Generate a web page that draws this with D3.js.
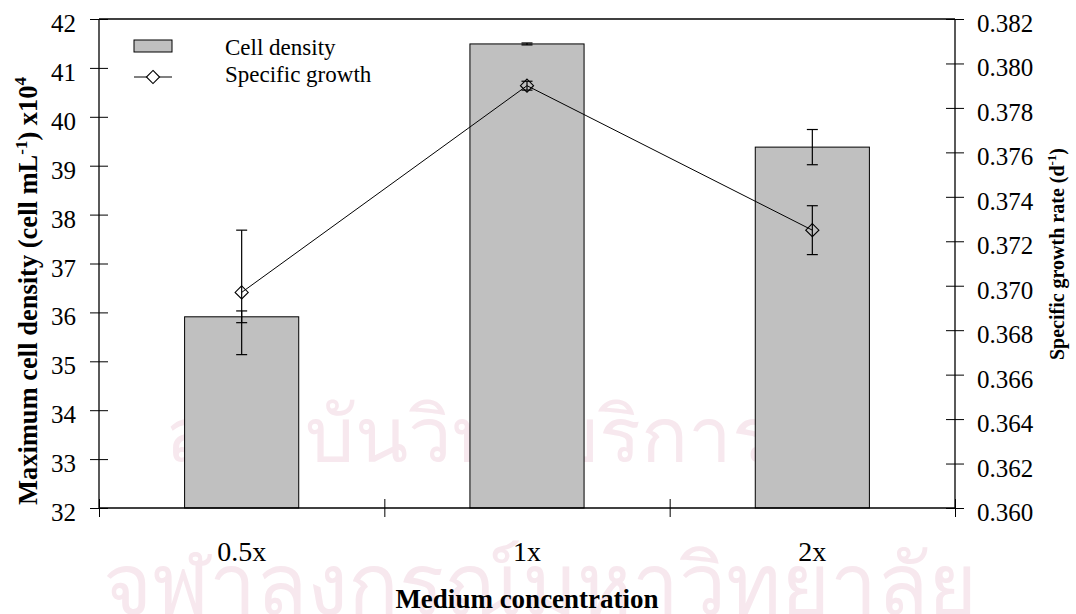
<!DOCTYPE html>
<html>
<head>
<meta charset="utf-8">
<script src="https://cdn.jsdelivr.net/npm/d3@7"></script>
<style>
  body { margin: 0; background: #fff; }
  text { font-family: "Liberation Serif", "Times New Roman", serif; }
</style>
</head>
<body>
<div id="root"></div>
<script>
// values
var categories = ["0.5x", "1x", "2x"];
var density = [35.91, 41.49, 39.38];        // x10^4 cell/mL
var densityErr = [0.12, 0.02, 0.36];
var growth = [0.3697, 0.3790, 0.3725];      // d^-1
var growthErr = [0.0028, 0.0002, 0.0011];
var leftTicks = [32, 33, 34, 35, 36, 37, 38, 39, 40, 41, 42];
var rightTicks = [0.360, 0.362, 0.364, 0.366, 0.368, 0.370, 0.372, 0.374, 0.376, 0.378, 0.380, 0.382];

var W = 1076, H = 614;
var mLeft = 99, mRight = 955, mTop = 19, mBottom = 508;

var svg = d3.select("#root")
    .append("svg")
    .attr("width", W)
    .attr("height", H);

// faint watermark text behind everything
var wm = svg.append("g").attr("fill", "#f7e8ee");
wm.append("text").attr("x", 470).attr("y", 462).attr("text-anchor", "middle")
    .style("font-family", "'Noto Sans', 'DejaVu Sans', sans-serif")
    .attr("font-size", 78).text("สถาบันวิทยบริการ");
wm.append("text").attr("x", 540).attr("y", 614).attr("text-anchor", "middle")
    .style("font-family", "'Noto Sans', 'DejaVu Sans', sans-serif")
    .attr("font-size", 84).text("จุฬาลงกรณ์มหาวิทยาลัย");

var x = d3.scaleBand()
    .domain(categories)
    .range([mLeft, mRight])
    .paddingInner(0.6)
    .paddingOuter(0.3);

var xEdge = d3.scaleLinear().domain([0, categories.length]).range([mLeft, mRight]);

var yL = d3.scaleLinear().domain([32, 42]).range([mBottom, mTop]);
var yR = d3.scaleLinear().domain([0.360, 0.382]).range([mBottom, mTop]);

var cx = function (i) { return x(categories[i]) + x.bandwidth() / 2; };

// bars
svg.selectAll("rect.bar")
    .data(density)
    .enter()
    .append("rect")
    .attr("class", "bar")
    .attr("x", function (d, i) { return x(categories[i]); })
    .attr("y", function (d) { return yL(d); })
    .attr("width", x.bandwidth())
    .attr("height", function (d) { return mBottom - yL(d); })
    .attr("fill", "#c0c0c0")
    .attr("stroke", "#000")
    .attr("stroke-width", 1);

// error bars helper
function errBars(vals, errs, scale) {
    var g = svg.append("g").attr("stroke", "#000").attr("stroke-width", 1.2);
    vals.forEach(function (v, i) {
        var xc = cx(i), y1 = scale(v - errs[i]), y2 = scale(v + errs[i]);
        g.append("line").attr("x1", xc).attr("x2", xc).attr("y1", y1).attr("y2", y2);
        g.append("line").attr("x1", xc - 5.5).attr("x2", xc + 5.5).attr("y1", y1).attr("y2", y1);
        g.append("line").attr("x1", xc - 5.5).attr("x2", xc + 5.5).attr("y1", y2).attr("y2", y2);
    });
}
errBars(density, densityErr, yL);
errBars(growth, growthErr, yR);

// growth line
var line = d3.line()
    .x(function (d, i) { return cx(i); })
    .y(function (d) { return yR(d); });

svg.append("path")
    .datum(growth)
    .attr("d", line)
    .attr("fill", "none")
    .attr("stroke", "#000")
    .attr("stroke-width", 1);

var diamond = d3.symbol().type(d3.symbolDiamond2).size(110);
svg.selectAll("path.pt")
    .data(growth)
    .enter()
    .append("path")
    .attr("class", "pt")
    .attr("d", diamond)
    .attr("transform", function (d, i) { return "translate(" + cx(i) + "," + yR(d) + ")"; })
    .attr("fill", "none")
    .attr("stroke", "#000")
    .attr("stroke-width", 1.1);

// frame top line
svg.append("line")
    .attr("x1", mLeft).attr("x2", mRight).attr("y1", mTop).attr("y2", mTop)
    .attr("stroke", "#000").attr("stroke-width", 1.3);

// axes
var axL = svg.append("g")
    .attr("transform", "translate(" + mLeft + ",0)")
    .call(d3.axisLeft(yL).tickValues(leftTicks).tickSize(9).tickPadding(14).tickFormat(d3.format("d")));

var axR = svg.append("g")
    .attr("transform", "translate(" + mRight + ",0)")
    .call(d3.axisRight(yR).tickValues(rightTicks).tickSize(9).tickPadding(13).tickFormat(d3.format(".3f")));

var axB = svg.append("g")
    .attr("transform", "translate(0," + mBottom + ")")
    .call(d3.axisBottom(xEdge).tickValues([0, 1, 2, 3]).tickSize(9).tickFormat(""));

[axL, axR].forEach(function (a) {
    a.selectAll(".tick line").attr("x1", -9).attr("x2", 9);
});
axB.selectAll(".tick line").attr("y1", -9).attr("y2", 9);

[axL, axR, axB].forEach(function (a) {
    a.attr("font-family", "Liberation Serif");
    a.select(".domain").attr("stroke-width", 1.3);
    a.selectAll(".tick line").attr("stroke-width", 1);
    a.selectAll(".tick text")
        .attr("font-size", 25)
        .attr("dy", "0.5em")
        .attr("fill", "#000")
        .style("font-family", "'Liberation Serif', serif");
});
axL.select(".domain").attr("d", "M0," + mBottom + "V" + mTop);
axR.select(".domain").attr("d", "M0," + mBottom + "V" + mTop);
axB.select(".domain").attr("d", "M" + mLeft + ",0H" + mRight);

// category labels
svg.selectAll("text.cat")
    .data(categories)
    .enter()
    .append("text")
    .attr("class", "cat")
    .attr("x", function (d, i) { return cx(i); })
    .attr("y", 561)
    .attr("text-anchor", "middle")
    .attr("font-size", 28)
    .text(function (d) { return d; });

// axis titles
svg.append("text")
    .attr("x", 527).attr("y", 608)
    .attr("text-anchor", "middle")
    .attr("font-size", 27).attr("font-weight", "bold")
    .text("Medium concentration");

var lt = svg.append("text")
    .attr("transform", "translate(37,291) rotate(-90)")
    .attr("text-anchor", "middle")
    .attr("font-size", 26.5).attr("font-weight", "bold");
lt.append("tspan").text("Maximum cell density (cell mL");
lt.append("tspan").attr("dy", -10).attr("font-size", 17).text("-1");
lt.append("tspan").attr("dy", 10).text(") x10");
lt.append("tspan").attr("dy", -11).attr("font-size", 17).text("4");

var rt = svg.append("text")
    .attr("transform", "translate(1064,254) rotate(-90)")
    .attr("text-anchor", "middle")
    .attr("font-size", 20).attr("font-weight", "bold");
rt.append("tspan").text("Specific growth rate (d");
rt.append("tspan").attr("dy", -8).attr("font-size", 13).text("-1");
rt.append("tspan").attr("dy", 8).text(")");

// legend
var lg = svg.append("g");
lg.append("rect").attr("x", 134).attr("y", 40).attr("width", 38).attr("height", 12)
    .attr("fill", "#c0c0c0").attr("stroke", "#000").attr("stroke-width", 1);
lg.append("text").attr("x", 225).attr("y", 55).attr("font-size", 23).text("Cell density");
lg.append("line").attr("x1", 134).attr("x2", 172).attr("y1", 77).attr("y2", 77)
    .attr("stroke", "#000").attr("stroke-width", 1);
lg.append("path").attr("d", diamond).attr("transform", "translate(153,77)")
    .attr("fill", "#fff").attr("stroke", "#000").attr("stroke-width", 1.1);
lg.append("text").attr("x", 225).attr("y", 82).attr("font-size", 23).text("Specific growth");
</script>
</body>
</html>
